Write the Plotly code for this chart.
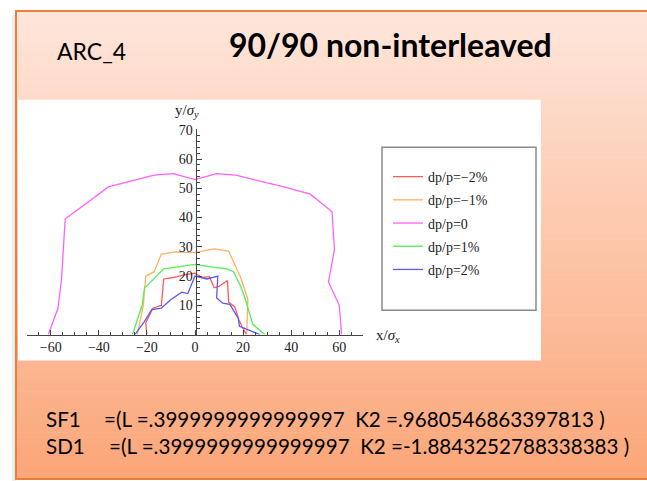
import plotly.graph_objects as go

W, H = 647, 481

# ---------------- data (x/sigma_x, y/sigma_y) ----------------
series_names = ["dp/p=\u22122%", "dp/p=\u22121%", "dp/p=0", "dp/p=1%", "dp/p=2%"]

red_x = [-20, -20.5, -17.5, -14, -13, -9, -4, 0, 3, 6, 8, 10, 13.5, 14, 16.5, 18.3, 20, 21.5]
red_y = [0, 4, 9, 10, 19, 19.5, 20.5, 21, 19.5, 19.8, 16, 16.5, 18.5, 11, 9.5, 5, 2, 0]

orange_x = [-24, -21.5, -20.5, -17, -14, -8, 0, 8, 14, 19, 22, 21.5]
orange_y = [0, 10, 20, 21.5, 27.5, 28.3, 28, 29.3, 28.5, 19.5, 12, 0]

magenta_x = [-61, -57, -55.5, -54, -36, -26, -17, -9, 0, 9, 17, 27, 37, 48, 57, 58, 55.5, 60, 61]
magenta_y = [0, 9, 19, 39.5, 50.5, 52.5, 54.5, 55, 53, 55, 54.5, 52.5, 50.5, 48, 42, 29, 18, 10, 0]

green_x = [-26, -22, -21, -19, -13, -8, 0, 8, 13, 16, 19, 21, 24, 29]
green_y = [0, 10, 16, 17.5, 22.5, 23, 24, 23, 22.5, 21.5, 16.5, 12, 3.5, 0]

blue_x = [-25, -21, -18, -14, -10, -5.5, -3, 0, 5, 9.5, 9, 11.5, 14.5, 18, 18.5, 27]
blue_y = [0, 4.5, 8.5, 9, 12, 14.5, 14, 20, 19, 20, 12.5, 10.7, 10.3, 5.5, 2.8, 0]

xs = [red_x, orange_x, magenta_x, green_x, blue_x]
ys = [red_y, orange_y, magenta_y, green_y, blue_y]
colors = ["#FF5A5A", "#FFB060", "#FF60FF", "#55EE55", "#5A5AEE"]

x_ticks = [-60, -40, -20, 0, 20, 40, 60]
y_ticks = [10, 20, 30, 40, 50, 60, 70]

title_text = "90/90 non-interleaved"
left_label = "ARC_4"
sf1_name, sf1_val = "SF1", "=(L =.3999999999999997\u00a0\u00a0K2 =.9680546863397813 )"
sd1_name, sd1_val = "SD1", "=(L =.3999999999999997\u00a0\u00a0K2 =-1.8843252788338383 )"


def px(x):
    return x / W


def py(y):
    return 1 - y / H


fig = go.Figure()
for name, x, y, c in zip(series_names, xs, ys, colors):
    fig.add_trace(go.Scatter(x=x, y=y, mode="lines", name=name, legendgroup=name,
                             line=dict(color=c, width=1.3)))

shapes = []
# slide background gradient
top = (254, 230, 219)
bot = (251, 166, 120)
y0, y1 = 5, 479
n = 80
for i in range(n):
    t = i / (n - 1)
    c = tuple(round(top[k] + (bot[k] - top[k]) * t) for k in range(3))
    ya = y0 + (y1 - y0) * i / n
    yb = y0 + (y1 - y0) * (i + 1) / n + 0.6
    shapes.append(dict(type="rect", xref="paper", yref="paper", layer="below",
                       x0=px(16), x1=px(648), y0=py(ya), y1=py(yb),
                       line=dict(width=0), fillcolor="rgb(%d,%d,%d)" % c))
# soft shadow left of slide
shapes.append(dict(type="rect", xref="paper", yref="paper", layer="below",
                   x0=px(12), x1=px(16), y0=py(9), y1=py(481),
                   line=dict(width=0), fillcolor="rgba(0,0,0,0.07)"))
# slide border
shapes.append(dict(type="rect", xref="paper", yref="paper", layer="below",
                   x0=px(16), x1=px(652), y0=py(5), y1=py(479),
                   line=dict(color="#EE7E35", width=2), fillcolor="rgba(0,0,0,0)"))
# white graphic area
shapes.append(dict(type="rect", xref="paper", yref="paper", layer="below",
                   x0=px(18), x1=px(541), y0=py(95), y1=py(359),
                   line=dict(width=0), fillcolor="white"))
# legend frame
shapes.append(dict(type="rect", xref="paper", yref="paper", layer="below",
                   x0=px(382), x1=px(536), y0=py(143), y1=py(308),
                   line=dict(color="#8A8A8A", width=1.5), fillcolor="white"))

serif = "Liberation Serif"
sans = "Lato"
annotations = [
    dict(text="<b>" + title_text + "</b>", x=px(390), y=py(39), xref="paper", yref="paper",
         showarrow=False, xanchor="center", yanchor="middle",
         font=dict(family=sans, size=32, color="black")),
    dict(text=left_label, x=px(55), y=py(46), xref="paper", yref="paper", showarrow=False,
         xanchor="left", yanchor="middle", font=dict(family=sans, size=23, color="black")),
    dict(text=sf1_name, x=px(44), y=py(418), xref="paper", yref="paper", showarrow=False,
         xanchor="left", yanchor="middle", font=dict(family=sans, size=20.6, color="black")),
    dict(text=sf1_val, x=px(102), y=py(418), xref="paper", yref="paper", showarrow=False,
         xanchor="left", yanchor="middle", font=dict(family=sans, size=20.6, color="black")),
    dict(text=sd1_name, x=px(44), y=py(446), xref="paper", yref="paper", showarrow=False,
         xanchor="left", yanchor="middle", font=dict(family=sans, size=20.6, color="black")),
    dict(text=sd1_val, x=px(107), y=py(446), xref="paper", yref="paper", showarrow=False,
         xanchor="left", yanchor="middle", font=dict(family=sans, size=20.6, color="black")),
    dict(text="x/<i>σ</i><sub><i>x</i></sub>", x=px(374), y=py(334), xref="paper", yref="paper",
         showarrow=False, xanchor="left", yanchor="middle", font=dict(family=serif, size=15, color="#222")),
    dict(text="y/<i>σ</i><sub><i>y</i></sub>", x=px(187), y=py(106), xref="paper", yref="paper",
         showarrow=False, xanchor="center", yanchor="middle", font=dict(family=serif, size=15, color="#222")),
]

fig.update_layout(
    width=W, height=H,
    margin=dict(l=0, r=0, t=0, b=0),
    paper_bgcolor="white",
    plot_bgcolor="rgba(0,0,0,0)",
    shapes=shapes,
    annotations=annotations,
    showlegend=True,
    legend=dict(x=px(388), y=py(157), xanchor="left", yanchor="top",
                bgcolor="rgba(0,0,0,0)", borderwidth=0, tracegroupgap=2,
                font=dict(family=serif, size=14, color="#222")),
    xaxis=dict(domain=[px(26.7), px(363.3)], range=[-70, 70], tickvals=x_ticks,
               showgrid=False, zeroline=False, showline=True, linecolor="#444", linewidth=1,
               ticks="inside", ticklen=5, tickcolor="#444",
               minor=dict(dtick=5, ticks="inside", ticklen=3, tickcolor="#444"),
               tickfont=dict(family=serif, size=14, color="#222"), fixedrange=True),
    yaxis=dict(domain=[py(332.7), py(124.5)], range=[0, 70.3], tickvals=y_ticks,
               anchor="free", position=px(195.5),
               showgrid=False, zeroline=False, showline=True, linecolor="#444", linewidth=1,
               ticks="inside", ticklen=5, tickcolor="#444",
               minor=dict(dtick=2, ticks="inside", ticklen=3, tickcolor="#444"),
               tickfont=dict(family=serif, size=14, color="#222"), fixedrange=True),
)

fig.write_html("out.html")
